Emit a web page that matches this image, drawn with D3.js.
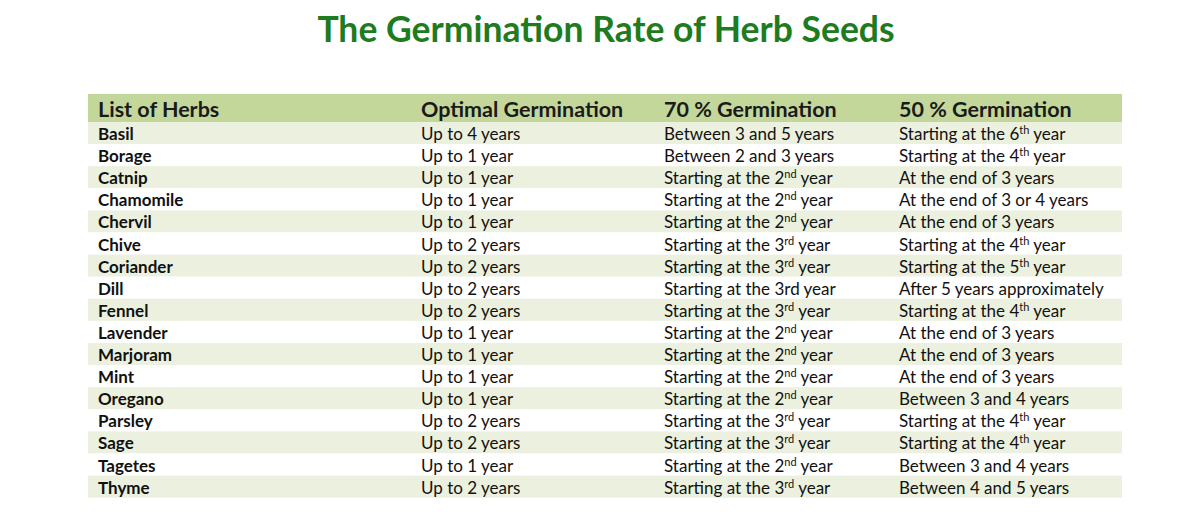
<!DOCTYPE html><html><head><meta charset="utf-8"><script src="https://cdn.jsdelivr.net/npm/d3@7"></script>
<style>body{margin:0;background:#fff}</style></head><body><svg id="c" width="1200" height="525"></svg>
<script>
const headers=["List of Herbs","Optimal Germination","70 % Germination","50 % Germination"];
const herbs=["Basil","Borage","Catnip","Chamomile","Chervil","Chive","Coriander","Dill","Fennel","Lavender","Marjoram","Mint","Oregano","Parsley","Sage","Tagetes","Thyme"];
const optimal=["Up to 4 years","Up to 1 year","Up to 1 year","Up to 1 year","Up to 1 year","Up to 2 years","Up to 2 years","Up to 2 years","Up to 2 years","Up to 1 year","Up to 1 year","Up to 1 year","Up to 1 year","Up to 2 years","Up to 2 years","Up to 1 year","Up to 2 years"];
const g70=["Between 3 and 5 years","Between 2 and 3 years","Starting at the 2^nd year","Starting at the 2^nd year","Starting at the 2^nd year","Starting at the 3^rd year","Starting at the 3^rd year","Starting at the 3rd year","Starting at the 3^rd year","Starting at the 2^nd year","Starting at the 2^nd year","Starting at the 2^nd year","Starting at the 2^nd year","Starting at the 3^rd year","Starting at the 3^rd year","Starting at the 2^nd year","Starting at the 3^rd year"];
const g50=["Starting at the 6^th year","Starting at the 4^th year","At the end of 3 years","At the end of 3 or 4 years","At the end of 3 years","Starting at the 4^th year","Starting at the 5^th year","After 5 years approximately","Starting at the 4^th year","At the end of 3 years","At the end of 3 years","At the end of 3 years","Between 3 and 4 years","Starting at the 4^th year","Starting at the 4^th year","Between 3 and 4 years","Between 4 and 5 years"];
const svg=d3.select("#c");
const font="Lato, 'Open Sans', sans-serif";
svg.append("text").attr("x",606).attr("y",42).attr("text-anchor","middle").attr("font-family",font).attr("font-weight",700).attr("font-size",35.5).attr("fill","#1e7b1e").text("The Germination Rate of Herb Seeds");
const L=88,R=1122;
const y=d3.scaleBand().domain(d3.range(herbs.length)).range([122,122+22.1*herbs.length]);
const colX=[98,421,664,899];
svg.append("rect").attr("x",L).attr("y",94).attr("width",R-L).attr("height",28).attr("fill","#c4d79b");
headers.forEach((h,i)=>svg.append("text").attr("x",colX[i]).attr("y",117).attr("font-family",font).attr("font-weight",700).attr("font-size",21.5).attr("fill","#1a1a1a").text(h));
svg.selectAll("rect.row").data(herbs).join("rect").attr("class","row").attr("x",L).attr("width",R-L).attr("y",(d,i)=>y(i)).attr("height",y.bandwidth()).attr("fill",(d,i)=>i%2===0?"#ebf1de":"#fff");
const cols=[herbs,optimal,g70,g50];
cols.forEach((arr,c)=>{
  arr.forEach((s,i)=>{
    const t=svg.append("text").attr("x",colX[c]).attr("y",y(i)+18).attr("font-family",font).attr("font-size",17).attr("font-weight",c===0?700:400).attr("fill","#111");
    const m=s.match(/^(.*?)\^(\w+)(.*)$/);
    if(m){t.append("tspan").text(m[1]);t.append("tspan").attr("dy",-6).attr("font-size",11).text(m[2]);t.append("tspan").attr("dy",6).text(m[3]);}
    else t.text(s);
  });
});
</script></body></html>
